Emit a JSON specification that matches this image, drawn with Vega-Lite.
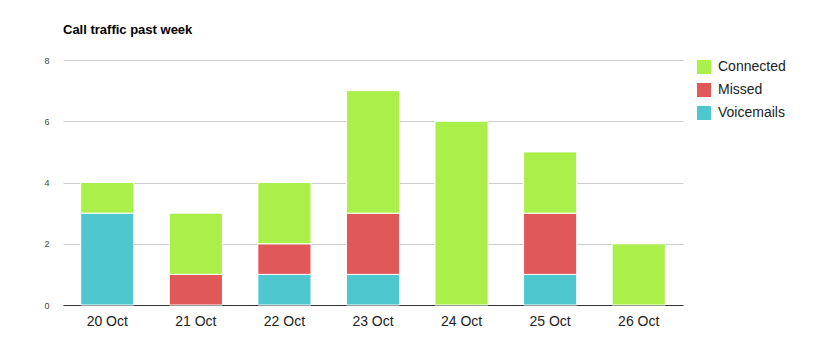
{
  "$schema": "https://vega.github.io/schema/vega-lite/v6.json",
  "width": 620,
  "height": 245,
  "autosize": {"type": "none"},
  "padding": {"left": 63, "top": 60, "right": 135, "bottom": 48},
  "background": "white",
  "title": {
    "text": "Call traffic past week",
    "anchor": "start",
    "frame": "group",
    "font": "Liberation Sans",
    "fontSize": 13,
    "fontWeight": "bold",
    "color": "#000000",
    "offset": 19
  },
  "data": {
    "values": [
      {"day": "20 Oct", "type": "Voicemails", "order": 1, "count": 3},
      {"day": "20 Oct", "type": "Connected", "order": 3, "count": 1},
      {"day": "21 Oct", "type": "Missed", "order": 2, "count": 1},
      {"day": "21 Oct", "type": "Connected", "order": 3, "count": 2},
      {"day": "22 Oct", "type": "Voicemails", "order": 1, "count": 1},
      {"day": "22 Oct", "type": "Missed", "order": 2, "count": 1},
      {"day": "22 Oct", "type": "Connected", "order": 3, "count": 2},
      {"day": "23 Oct", "type": "Voicemails", "order": 1, "count": 1},
      {"day": "23 Oct", "type": "Missed", "order": 2, "count": 2},
      {"day": "23 Oct", "type": "Connected", "order": 3, "count": 4},
      {"day": "24 Oct", "type": "Connected", "order": 3, "count": 6},
      {"day": "25 Oct", "type": "Voicemails", "order": 1, "count": 1},
      {"day": "25 Oct", "type": "Missed", "order": 2, "count": 2},
      {"day": "25 Oct", "type": "Connected", "order": 3, "count": 2},
      {"day": "26 Oct", "type": "Connected", "order": 3, "count": 2}
    ]
  },
  "mark": {"type": "bar", "stroke": "white", "strokeWidth": 1},
  "encoding": {
    "x": {
      "field": "day",
      "type": "nominal",
      "scale": {"paddingInner": 0.4, "paddingOuter": 0.2},
      "axis": {
        "title": null,
        "labelAngle": 0,
        "labelFont": "Liberation Sans",
        "labelFontSize": 14,
        "labelColor": "#222222",
        "labelPadding": 9,
        "ticks": false,
        "domainColor": "#333333",
        "domainWidth": 1
      }
    },
    "y": {
      "field": "count",
      "type": "quantitative",
      "stack": "zero",
      "scale": {"domain": [0, 8]},
      "axis": {
        "title": null,
        "values": [0, 2, 4, 6, 8],
        "labelFont": "Liberation Sans",
        "labelFontSize": 9,
        "labelColor": "#444444",
        "labelPadding": 14,
        "ticks": false,
        "domain": false,
        "gridColor": "#cccccc"
      }
    },
    "color": {
      "field": "type",
      "type": "nominal",
      "scale": {
        "domain": ["Connected", "Missed", "Voicemails"],
        "range": ["#abef4b", "#e05858", "#4fc7cf"]
      },
      "legend": {
        "title": null,
        "orient": "right",
        "offset": 14,
        "symbolType": "square",
        "symbolSize": 196,
        "symbolStrokeWidth": 0,
        "labelFont": "Liberation Sans",
        "labelFontSize": 14,
        "labelColor": "#222222",
        "rowPadding": 9,
        "labelOffset": 7
      }
    },
    "order": {"field": "order", "type": "quantitative"}
  },
  "config": {"view": {"stroke": null}}
}
